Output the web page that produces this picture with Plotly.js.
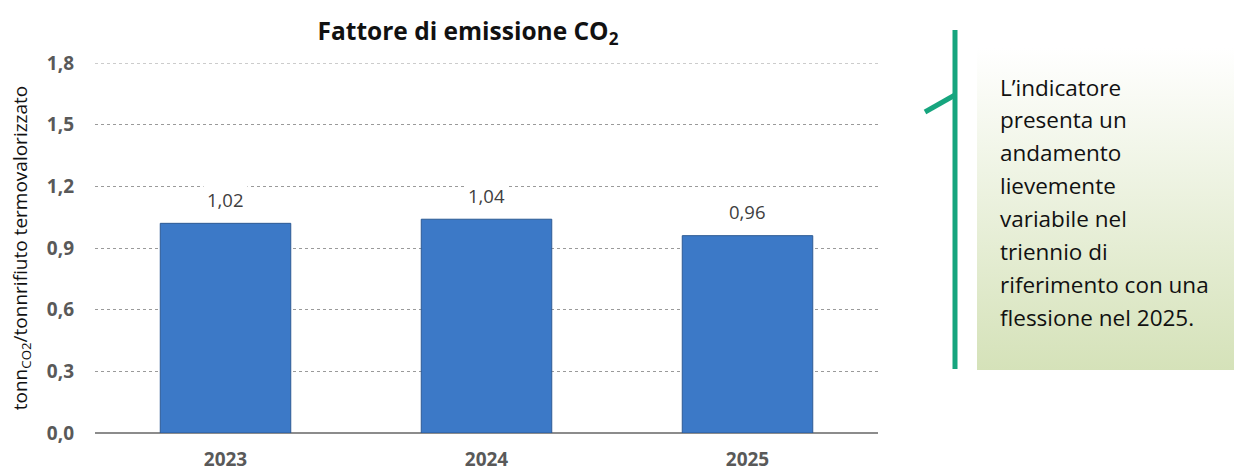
<!DOCTYPE html>
<html><head><meta charset="utf-8">
<script src="https://cdn.plot.ly/plotly-3.0.1.min.js"></script>
<style>html,body{margin:0;padding:0;background:#fff}#chart{width:1234px;height:470px}</style>
</head><body><div id="chart"></div>
<script>
const years = ['2023', '2024', '2025'];
const values = [1.02, 1.04, 0.96];
const valueLabels = ['1,02', '1,04', '0,96'];
const yTicks = [0, 0.3, 0.6, 0.9, 1.2, 1.5, 1.8];
const noteLines = ['L’indicatore', 'presenta un', 'andamento', 'lievemente', 'variabile nel', 'triennio di', 'riferimento con una', 'flessione nel 2025.'];

const W = 1234, H = 470;
const M = {l: 95, r: W - 878, t: 63, b: H - 433};
const px = x => (x - M.l) / (W - M.l - M.r);
const py = y => (H - M.b - y) / (H - M.t - M.b);
const FONT = '"Open Sans", "Noto Sans", sans-serif';

const gradSvg = '<svg xmlns="http://www.w3.org/2000/svg" width="100" height="100" preserveAspectRatio="none"><defs><linearGradient id="g" x1="0" y1="0" x2="0" y2="1"><stop offset="0" stop-color="#ffffff"/><stop offset="1" stop-color="#d5e2b9"/></linearGradient></defs><rect width="100" height="100" fill="url(#g)"/></svg>';
const gradUri = 'data:image/svg+xml;charset=utf-8,' + encodeURIComponent(gradSvg);

const annotations = years.map((yr, i) => ({
  x: i, y: values[i], xref: 'x', yref: 'y', text: valueLabels[i],
  showarrow: false, yshift: 24, bgcolor: '#ffffff', borderpad: 3,
  font: {family: FONT, size: 18.5, color: '#404040'}
}));
noteLines.forEach((t, i) => annotations.push({
  x: px(998), y: py(87 + i * 32.9), xref: 'paper', yref: 'paper',
  xanchor: 'left', yanchor: 'middle', text: t, showarrow: false,
  font: {family: FONT, size: 22.5, color: '#111111'}
}));

const data = [{
  type: 'bar', x: years, y: values, width: 0.5,
  marker: {color: '#3c79c7', line: {color: '#2c5a94', width: 1}},
  hoverinfo: 'none'
}];

const layout = {
  width: W, height: H, margin: M,
  paper_bgcolor: '#ffffff', plot_bgcolor: 'rgba(0,0,0,0)',
  separators: ',.',
  showlegend: false,
  title: {text: '<b>Fattore di emissione CO<sub>2</sub></b>', x: 468 / W, xref: 'container', xanchor: 'center',
          y: 1 - 31 / H, yref: 'container', yanchor: 'middle', font: {family: FONT, size: 24.5, color: '#111111'}},
  xaxis: {type: 'category', range: [-0.5, 2.5], showgrid: false, zeroline: false,
          showline: false, ticks: '', ticklabelstandoff: 13,
          tickfont: {family: FONT, size: 19, color: '#595959', weight: 'bold'}},
  yaxis: {range: [0, 1.8], tickvals: yTicks, tickformat: '.1f', showgrid: true,
          gridcolor: '#9a9a9a', griddash: 'dot', gridwidth: 1, zeroline: true,
          zerolinecolor: '#8c8c8c', zerolinewidth: 1.5, showline: false, ticks: '',
          ticklabelstandoff: 20,
          tickfont: {family: FONT, size: 19, color: '#595959', weight: 'bold'},
          title: {text: 'tonn<sub>CO2</sub>/tonnrifiuto termovalorizzato', standoff: 14,
                  font: {family: FONT, size: 19, color: '#111111'}}},
  images: [{source: gradUri, xref: 'paper', yref: 'paper', x: px(977), y: py(48),
            sizex: px(1234) - px(977), sizey: py(48) - py(370), xanchor: 'left', yanchor: 'top',
            sizing: 'stretch', layer: 'below'}],
  shapes: [
    {type: 'line', xref: 'paper', yref: 'y', x0: 0, x1: 1, y0: yTicks[yTicks.length - 1], y1: yTicks[yTicks.length - 1],
     line: {color: '#9a9a9a', width: 1, dash: 'dot'}},
    {type: 'line', xref: 'paper', yref: 'paper', x0: px(955), x1: px(955), y0: py(30), y1: py(369),
     line: {color: '#16a57e', width: 5}},
    {type: 'line', xref: 'paper', yref: 'paper', x0: px(925), x1: px(955), y0: py(112), y1: py(95),
     line: {color: '#16a57e', width: 5}}
  ],
  annotations: annotations
};

Plotly.newPlot('chart', data, layout, {staticPlot: true, displayModeBar: false});
</script></body></html>
